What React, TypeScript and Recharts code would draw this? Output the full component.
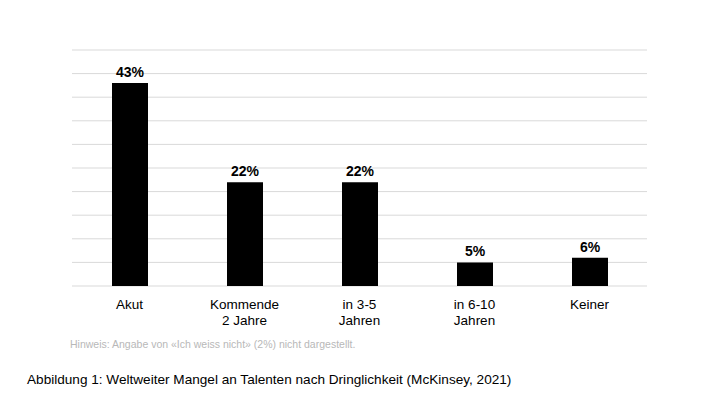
import React from 'react';
import { BarChart, Bar, XAxis, YAxis, CartesianGrid, LabelList } from 'recharts';

const categories = ['Akut', 'Kommende\n2 Jahre', 'in 3-5\nJahren', 'in 6-10\nJahren', 'Keiner'];
const values = [43, 22, 22, 5, 6];
const yTicks = [0, 5, 10, 15, 20, 25, 30, 35, 40, 45, 50];
const note = 'Hinweis: Angabe von «Ich weiss nicht» (2%) nicht dargestellt.';
const caption = 'Abbildung 1: Weltweiter Mangel an Talenten nach Dringlichkeit (McKinsey, 2021)';

const data = categories.map((c, i) => ({ name: c, value: values[i] }));
const FONT = '"Liberation Sans", Arial, Helvetica, sans-serif';

const Tick = (props: any) => {
  const { x, y, payload } = props;
  const lines = String(payload.value).split('\n');
  return (
    <text x={x} y={y} textAnchor="middle" fill="#000" fontSize={13.5} fontFamily={FONT}>
      {lines.map((l, i) => (
        <tspan key={i} x={x} dy={i === 0 ? 15 : 16}>{l}</tspan>
      ))}
    </text>
  );
};

export default function App() {
  return (
    <div style={{ position: 'fixed', left: 0, top: 0, width: 720, height: 405, background: '#fff' }}>
      <BarChart width={720} height={405} data={data} margin={{ top: 50, right: 73, bottom: 89, left: 72 }}>
        <CartesianGrid vertical={false} stroke="#d9d9d9" strokeWidth={1} horizontalValues={yTicks} />
        <YAxis hide domain={[0, 50]} ticks={yTicks} />
        <XAxis dataKey="name" height={30} axisLine={false} tickLine={false} tick={<Tick />} interval={0} />
        <Bar dataKey="value" fill="#000" barSize={36} isAnimationActive={false}>
          <LabelList
            dataKey="value"
            position="top"
            offset={6}
            formatter={(v: any) => `${v}%`}
            style={{ fontFamily: FONT, fontSize: 14, fontWeight: 700, fill: '#000' }}
          />
        </Bar>
      </BarChart>
      <div style={{ position: 'absolute', left: 70, top: 338, fontFamily: FONT, fontSize: 10.5, color: '#b8b8b8', whiteSpace: 'nowrap' }}>
        {note}
      </div>
      <div style={{ position: 'absolute', left: 27, top: 372, fontFamily: FONT, fontSize: 13.6, color: '#000', whiteSpace: 'nowrap' }}>
        {caption}
      </div>
    </div>
  );
}
